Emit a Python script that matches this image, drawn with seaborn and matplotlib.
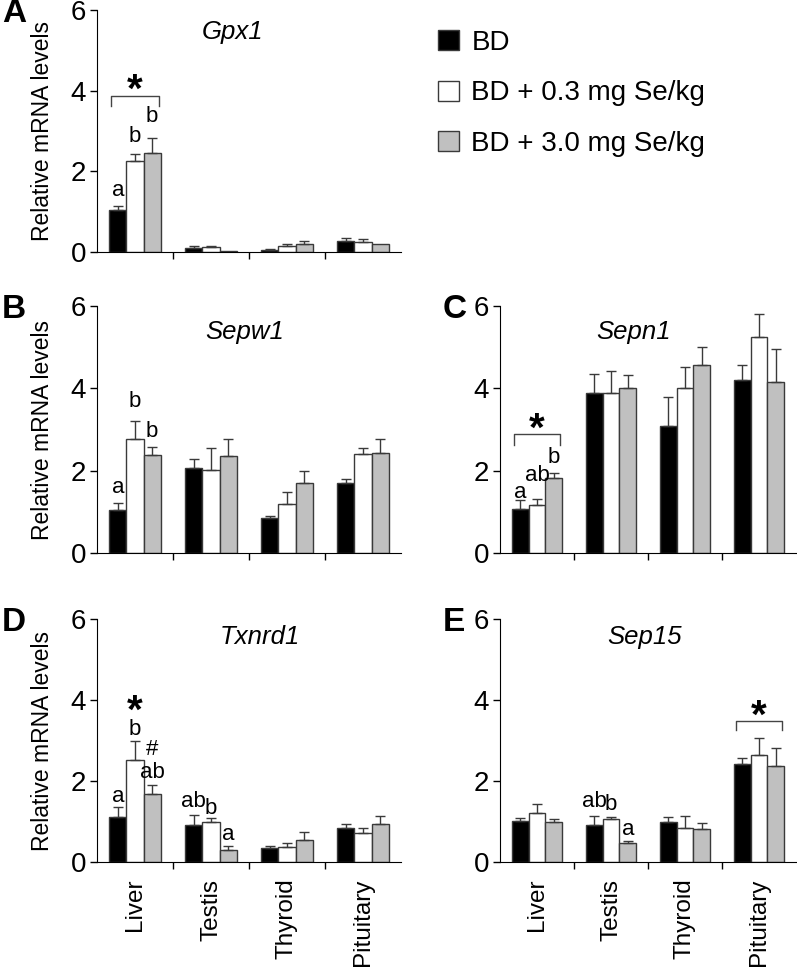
import numpy as np
import pandas as pd
import seaborn as sns
import matplotlib
matplotlib.use("Agg")
import matplotlib.pyplot as plt

# tissues and diet groups
tissues = ["Liver", "Testis", "Thyroid", "Pituitary"]
groups = ["BD", "BD + 0.3 mg Se/kg", "BD + 3.0 mg Se/kg"]

# mean values (rows = groups, cols = tissues)
gpx1_mean = [[1.03, 0.10, 0.06, 0.27],
             [2.25, 0.12, 0.14, 0.26],
             [2.45, 0.03, 0.20, 0.20]]
gpx1_top = [[1.15, 0.14, 0.08, 0.34],
            [2.44, 0.16, 0.20, 0.31],
            [2.83, 0.03, 0.28, 0.20]]

sepw1_mean = [[1.05, 2.06, 0.85, 1.70],
              [2.78, 2.02, 1.20, 2.41],
              [2.39, 2.36, 1.71, 2.44]]
sepw1_top = [[1.22, 2.28, 0.90, 1.80],
             [3.21, 2.55, 1.47, 2.56],
             [2.57, 2.78, 2.00, 2.78]]

sepn1_mean = [[1.07, 3.89, 3.08, 4.20],
              [1.17, 3.89, 4.02, 5.24],
              [1.82, 4.02, 4.57, 4.15]]
sepn1_top = [[1.28, 4.34, 3.78, 4.57],
             [1.31, 4.41, 4.52, 5.81],
             [1.94, 4.32, 5.00, 4.95]]

txnrd1_mean = [[1.12, 0.91, 0.34, 0.84],
               [2.52, 0.99, 0.37, 0.72],
               [1.67, 0.30, 0.55, 0.93]]
txnrd1_top = [[1.36, 1.17, 0.40, 0.94],
              [2.99, 1.09, 0.46, 0.84],
              [1.91, 0.40, 0.74, 1.13]]

sep15_mean = [[1.02, 0.92, 1.00, 2.42],
              [1.21, 1.07, 0.84, 2.63],
              [0.99, 0.46, 0.81, 2.36]]
sep15_top = [[1.09, 1.13, 1.12, 2.56],
             [1.42, 1.10, 1.13, 3.06],
             [1.05, 0.53, 0.96, 2.81]]

plt.rcParams['font.family'] = ['Liberation Sans', 'DejaVu Sans']
colors = ["black", "white", "#c0c0c0"]
edge = "#3a3a3a"

fig = plt.figure(figsize=(7.97, 9.71), dpi=100)
W, H = 797, 971
bars = {}


def make_ax(x0, x1, ytop, ybot):
    return fig.add_axes([x0 / W, 1 - ybot / H, (x1 - x0) / W, (ybot - ytop) / H])


def panel(ax, mean, top, gene, letter, lx, ylabel=True, xlabels=False, tx=0.5, ty=0.92):
    df = pd.DataFrame({
        "tissue": np.tile(tissues, 3),
        "group": np.repeat(groups, 4),
        "value": np.array(mean).ravel(),
    })
    sns.barplot(df, x="tissue", y="value", hue="group", order=tissues, hue_order=groups,
                palette=colors, edgecolor=edge, linewidth=1.0, width=0.68,
                errorbar=None, legend=False, ax=ax)
    bars[ax] = list(ax.containers)
    for i, cont in enumerate(bars[ax]):
        xs = np.array([p.get_x() + p.get_width() / 2 for p in cont.patches])
        m = np.array(mean[i])
        up = np.array(top[i]) - m
        keep = up > 0.001
        ax.errorbar(xs[keep], m[keep], yerr=[np.zeros(keep.sum()), up[keep]],
                    fmt="none", ecolor=edge, elinewidth=1.0, capsize=3.5, capthick=1.0)
    ax.set_xlim(-0.5, 3.5)
    ax.set_ylim(0, 6)
    ax.set_yticks([0, 2, 4, 6])
    ax.tick_params(axis="y", labelsize=20, length=5, width=1, pad=3)
    ax.set_xticks(range(4))
    ax.set_xticks([0.5, 1.5, 2.5], minor=True)
    ax.tick_params(axis="x", which="major", length=0, pad=12)
    ax.tick_params(axis="x", which="minor", length=5, width=1, direction="out")
    if xlabels:
        ax.set_xticklabels(tissues, rotation=90, fontsize=17.5, va="top")
    else:
        ax.set_xticklabels([])
    ax.set_xlabel("")
    if ylabel:
        ax.set_ylabel("Relative mRNA levels", fontsize=16.5, labelpad=12)
    else:
        ax.set_ylabel("")
    for s in ["top", "right"]:
        ax.spines[s].set_visible(False)
    ax.text(tx, ty, gene, transform=ax.transAxes, style="italic", fontsize=18.5,
            ha="center", va="center")
    # panel letter
    bb = ax.get_position()
    fig.text(lx / W, bb.y1 - 0.004, letter, fontsize=24, fontweight="bold",
             ha="left", va="center")
    return ax


def bar_x(ax, g, t):
    p = bars[ax][g].patches[t]
    return p.get_x() + p.get_width() / 2


def lab(ax, g, t, y, s, fs=16):
    ax.text(bar_x(ax, g, t), y, s, ha="center", va="center", fontsize=fs)


def star(ax, x, y):
    ax.text(x, y, "*", ha="center", va="center", fontsize=29, fontweight="bold")


def bracket(ax, t, y, dy):
    x0 = bar_x(ax, 0, t) - 0.09
    x1 = bar_x(ax, 2, t) + 0.09
    ax.plot([x0, x0, x1, x1], [y - dy, y, y, y - dy], color="#444444", lw=1.0)
    star(ax, (x0 + x1) / 2, y + 0.12)


# A
axA = make_ax(97, 401, 10, 252)
panel(axA, gpx1_mean, gpx1_top, "Gpx1", "A", 2, tx=0.447, ty=0.91)
lab(axA, 0, 0, 1.52, "a")
lab(axA, 1, 0, 2.87, "b")
lab(axA, 2, 0, 3.35, "b")
bracket(axA, 0, 3.88, 0.25)

handles = [bars[axA][i].patches[0] for i in range(3)]
fig.legend(handles, groups, loc="upper left", bbox_to_anchor=(438 / W, 1 - 30 / H),
           frameon=False, fontsize=20, handlelength=0.75, handleheight=0.75,
           handletextpad=0.45, labelspacing=0.88, borderpad=0, borderaxespad=0)

# B
axB = make_ax(97, 401, 306, 553)
panel(axB, sepw1_mean, sepw1_top, "Sepw1", "B", 2, tx=0.487, ty=0.895)
lab(axB, 0, 0, 1.59, "a")
lab(axB, 1, 0, 3.67, "b")
lab(axB, 2, 0, 2.94, "b")

# C
axC = make_ax(500, 796, 306, 553)
panel(axC, sepn1_mean, sepn1_top, "Sepn1", "C", 443, ylabel=False, tx=0.45, ty=0.895)
lab(axC, 0, 0, 1.46, "a")
lab(axC, 1, 0, 1.89, "ab")
lab(axC, 2, 0, 2.33, "b")
bracket(axC, 0, 2.88, 0.25)

# D
axD = make_ax(97, 401, 619, 862)
panel(axD, txnrd1_mean, txnrd1_top, "Txnrd1", "D", 2, xlabels=True, tx=0.536, ty=0.926)
lab(axD, 0, 0, 1.62, "a")
lab(axD, 1, 0, 3.27, "b")
star(axD, bar_x(axD, 1, 0), 3.72)
lab(axD, 2, 0, 2.79, "#")
lab(axD, 2, 0, 2.20, "ab")
lab(axD, 0, 1, 1.50, "ab")
lab(axD, 1, 1, 1.33, "b")
lab(axD, 2, 1, 0.67, "a")

# E
axE = make_ax(500, 796, 619, 862)
panel(axE, sep15_mean, sep15_top, "Sep15", "E", 443, ylabel=False, xlabels=True,
      tx=0.49, ty=0.926)
lab(axE, 0, 1, 1.50, "ab")
lab(axE, 1, 1, 1.42, "b")
lab(axE, 2, 1, 0.81, "a")
bracket(axE, 3, 3.47, 0.22)

fig.savefig("out.png", dpi=100)
